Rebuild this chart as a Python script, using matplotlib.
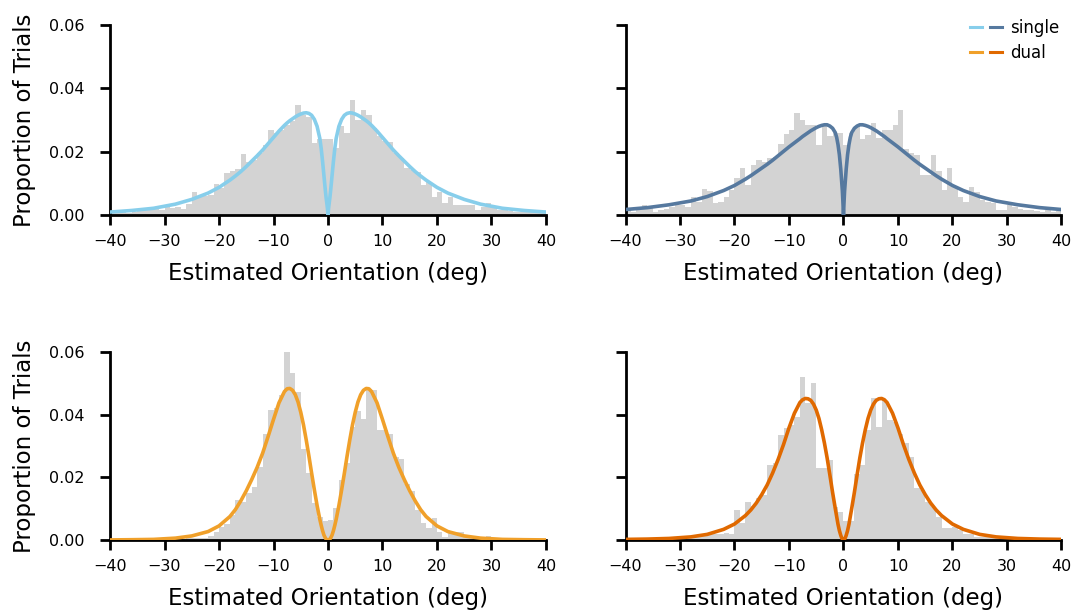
import numpy as np
import matplotlib
matplotlib.use("Agg")
import matplotlib.pyplot as plt
from matplotlib.lines import Line2D
from matplotlib.legend_handler import HandlerTuple

# histogram bins: 1 deg wide, -40 .. 40
BIN_EDGES = list(range(-40, 41))

hist_single_a = [
    0.0008, 0.0005, 0.0010, 0.0006, 0.0010, 0.0012, 0.0015, 0.0014, 0.0018, 0.0016,
    0.0024, 0.0022, 0.0026, 0.0018, 0.0035, 0.0074, 0.0058, 0.0060, 0.0062, 0.0097,
    0.0085, 0.0132, 0.0138, 0.0145, 0.0193, 0.0168, 0.0175, 0.0195, 0.0220, 0.0270,
    0.0260, 0.0270, 0.0285, 0.0298, 0.0348, 0.0316, 0.0310, 0.0226, 0.0240, 0.0240,
    0.0240, 0.0210, 0.0280, 0.0260, 0.0363, 0.0300, 0.0332, 0.0316, 0.0274, 0.0250,
    0.0235, 0.0232, 0.0195, 0.0179, 0.0147, 0.0142, 0.0137, 0.0095, 0.0105, 0.0058,
    0.0074, 0.0037, 0.0058, 0.0032, 0.0032, 0.0030, 0.0032, 0.0016, 0.0026, 0.0037,
    0.0026, 0.0014, 0.0014, 0.0012, 0.0010, 0.0010, 0.0008, 0.0010, 0.0006, 0.0008,
]
hist_single_b = [
    0.0015, 0.0010, 0.0025, 0.0032, 0.0021, 0.0010, 0.0015, 0.0020, 0.0025, 0.0030,
    0.0032, 0.0026, 0.0056, 0.0042, 0.0081, 0.0077, 0.0037, 0.0042, 0.0058, 0.0080,
    0.0116, 0.0148, 0.0095, 0.0158, 0.0174, 0.0168, 0.0179, 0.0184, 0.0223, 0.0255,
    0.0270, 0.0321, 0.0300, 0.0285, 0.0285, 0.0221, 0.0280, 0.0250, 0.0260, 0.0260,
    0.0220, 0.0260, 0.0280, 0.0240, 0.0253, 0.0290, 0.0243, 0.0270, 0.0270, 0.0285,
    0.0332, 0.0208, 0.0195, 0.0190, 0.0126, 0.0126, 0.0190, 0.0140, 0.0079, 0.0147,
    0.0089, 0.0058, 0.0042, 0.0089, 0.0074, 0.0047, 0.0040, 0.0037, 0.0016, 0.0016,
    0.0032, 0.0026, 0.0020, 0.0015, 0.0015, 0.0012, 0.0010, 0.0015, 0.0010, 0.0012,
]
hist_dual_a = [
    0.0, 0.0, 0.0, 0.0002, 0.0, 0.0002, 0.0, 0.0003, 0.0, 0.0002,
    0.0003, 0.0002, 0.0005, 0.0003, 0.0005, 0.0006, 0.0005, 0.0008, 0.0013, 0.0024,
    0.0040, 0.0050, 0.0080, 0.0128, 0.0122, 0.0149, 0.0170, 0.0234, 0.0340, 0.0415,
    0.0420, 0.0463, 0.0600, 0.0532, 0.0473, 0.0292, 0.0213, 0.0117, 0.0075, 0.0062,
    0.0064, 0.0101, 0.0191, 0.0245, 0.0362, 0.0413, 0.0388, 0.0481, 0.0480, 0.0351,
    0.0351, 0.0340, 0.0266, 0.0260, 0.0180, 0.0155, 0.0096, 0.0054, 0.0037, 0.0069,
    0.0026, 0.0010, 0.0025, 0.0025, 0.0026, 0.0011, 0.0005, 0.0005, 0.0005, 0.0013,
    0.0002, 0.0002, 0.0002, 0.0003, 0.0002, 0.0002, 0.0002, 0.0002, 0.0002, 0.0002,
]
hist_dual_b = [
    0.0, 0.0, 0.0, 0.0, 0.0, 0.0, 0.0002, 0.0, 0.0004, 0.0,
    0.0003, 0.0005, 0.0008, 0.0011, 0.0015, 0.0020, 0.0020, 0.0018, 0.0022, 0.0020,
    0.0096, 0.0053, 0.0122, 0.0110, 0.0134, 0.0144, 0.0239, 0.0245, 0.0335, 0.0357,
    0.0367, 0.0393, 0.0521, 0.0436, 0.0500, 0.0229, 0.0229, 0.0255, 0.0106, 0.0090,
    0.0062, 0.0062, 0.0212, 0.0239, 0.0351, 0.0452, 0.0362, 0.0447, 0.0383, 0.0377,
    0.0340, 0.0310, 0.0266, 0.0165, 0.0160, 0.0122, 0.0106, 0.0074, 0.0037, 0.0037,
    0.0042, 0.0032, 0.0020, 0.0020, 0.0010, 0.0010, 0.0017, 0.0012, 0.0008, 0.0008,
    0.0008, 0.0008, 0.0010, 0.0003, 0.0003, 0.0003, 0.0003, 0.0003, 0.0003, 0.0003,
]

# model fits, one half (0..40 deg); the curves are symmetric about zero
fit_x = [0, 0.1, 0.2, 0.35, 0.5, 0.75, 1, 1.25, 1.5, 2, 2.5, 3, 3.5, 4, 4.5, 5,
         5.5, 6, 6.5, 7, 7.5, 8, 9, 10, 11, 12, 13, 14, 15, 16, 17, 18, 20, 22,
         25, 28, 32, 36, 40]
fit_single_a = [0, 0.0020, 0.0035, 0.0055, 0.0080, 0.0125, 0.0170, 0.0210, 0.0242,
                0.0280, 0.0302, 0.0315, 0.0321, 0.0323, 0.0322, 0.0319, 0.0315,
                0.0310, 0.0304, 0.0298, 0.0291, 0.0283, 0.0265, 0.0245, 0.0225,
                0.0205, 0.0187, 0.0170, 0.0153, 0.0137, 0.0123, 0.0110, 0.0087,
                0.0069, 0.0049, 0.0034, 0.0021, 0.0014, 0.0009]
fit_single_b = [0, 0.0040, 0.0075, 0.0110, 0.0145, 0.0190, 0.0222, 0.0245, 0.0260,
                0.0274, 0.0281, 0.0285, 0.0285, 0.0283, 0.0280, 0.0276, 0.0271,
                0.0266, 0.0260, 0.0254, 0.0248, 0.0241, 0.0228, 0.0215, 0.0201,
                0.0187, 0.0173, 0.0160, 0.0148, 0.0136, 0.0124, 0.0113, 0.0093,
                0.0077, 0.0058, 0.0044, 0.0032, 0.0023, 0.0017]
fit_dual_a = [0, 0.00003, 0.0001, 0.0003, 0.0007, 0.0016, 0.0030, 0.0047, 0.0066,
              0.0110, 0.0160, 0.0213, 0.0268, 0.0320, 0.0368, 0.0408, 0.0441,
              0.0464, 0.0478, 0.0484, 0.0483, 0.0474, 0.0438, 0.0385, 0.0330,
              0.0277, 0.0232, 0.0193, 0.0157, 0.0125, 0.0097, 0.0075, 0.0045,
              0.0027, 0.0013, 0.0006, 0.0002, 0.0001, 0.00003]
fit_dual_b = [0, 0.0001, 0.0003, 0.0008, 0.0015, 0.0030, 0.0050, 0.0075, 0.0100,
              0.0152, 0.0208, 0.0262, 0.0310, 0.0352, 0.0388, 0.0415, 0.0434,
              0.0446, 0.0451, 0.0452, 0.0448, 0.0439, 0.0405, 0.0358, 0.0305,
              0.0257, 0.0214, 0.0176, 0.0145, 0.0118, 0.0096, 0.0078, 0.0051,
              0.0034, 0.0018, 0.0010, 0.0005, 0.0003, 0.0002]

colors = {
    "single_a": "#87ceeb",
    "single_b": "#56799f",
    "dual_a": "#f0a02a",
    "dual_b": "#e06900",
}

HIST_COLOR = "#d3d3d3"
XLABEL = "Estimated Orientation (deg)"
YLABEL = "Proportion of Trials"


def mirrored(xs, ys):
    x = np.asarray(xs, float)
    y = np.asarray(ys, float)
    return np.concatenate([-x[::-1], x[1:]]), np.concatenate([y[::-1], y[1:]])


def draw_panel(ax, hist, fit, color, show_ylabel):
    edges = np.asarray(BIN_EDGES, float)
    ax.bar(edges[:-1], hist, width=1.0, align="edge", color=HIST_COLOR,
           linewidth=0, zorder=1)
    fx, fy = mirrored(fit_x, fit)
    ax.plot(fx, fy, color=color, lw=2.6, zorder=3, solid_capstyle="round")

    ax.set_xlim(-40, 40)
    ax.set_ylim(0, 0.06)
    ax.set_xticks(np.arange(-40, 41, 10))
    ax.set_yticks([0, 0.02, 0.04, 0.06])
    for side in ("top", "right"):
        ax.spines[side].set_visible(False)
    for side in ("left", "bottom"):
        ax.spines[side].set_linewidth(2.0)
    ax.tick_params(direction="out", length=7.5, width=2.0, labelsize=11.5)
    ax.tick_params(axis="x", pad=6.5)
    ax.tick_params(axis="y", pad=11)
    ax.set_xlabel(XLABEL, fontsize=16.5, labelpad=9)
    if show_ylabel:
        ax.yaxis.set_major_formatter(plt.FormatStrFormatter("%.2f"))
        ax.set_ylabel(YLABEL, fontsize=16.5, labelpad=9)
    else:
        ax.set_yticklabels([])


def main():
    fig = plt.figure(figsize=(10.85, 6.14), dpi=100)
    w = 0.4018
    ax_sa = fig.add_axes([0.1014, 0.650, w, 0.309])
    ax_sb = fig.add_axes([0.5765, 0.650, w, 0.309])
    ax_da = fig.add_axes([0.1014, 0.1205, w, 0.306])
    ax_db = fig.add_axes([0.5765, 0.1205, w, 0.306])

    draw_panel(ax_sa, hist_single_a, fit_single_a, colors["single_a"], True)
    draw_panel(ax_sb, hist_single_b, fit_single_b, colors["single_b"], False)
    draw_panel(ax_da, hist_dual_a, fit_dual_a, colors["dual_a"], True)
    draw_panel(ax_db, hist_dual_b, fit_dual_b, colors["dual_b"], False)

    h_single = (Line2D([], [], color=colors["single_a"], lw=2.2),
                Line2D([], [], color=colors["single_b"], lw=2.2))
    h_dual = (Line2D([], [], color=colors["dual_a"], lw=2.2),
              Line2D([], [], color=colors["dual_b"], lw=2.2))
    ax_sb.legend([h_single, h_dual], ["single", "dual"],
                 handler_map={tuple: HandlerTuple(ndivide=None, pad=0.45)},
                 loc="upper right", bbox_to_anchor=(1.03, 1.11), frameon=False,
                 fontsize=12, handlelength=1.9, handletextpad=0.5,
                 labelspacing=0.4)

    fig.savefig("out.png", dpi=100)


if __name__ == "__main__":
    main()
